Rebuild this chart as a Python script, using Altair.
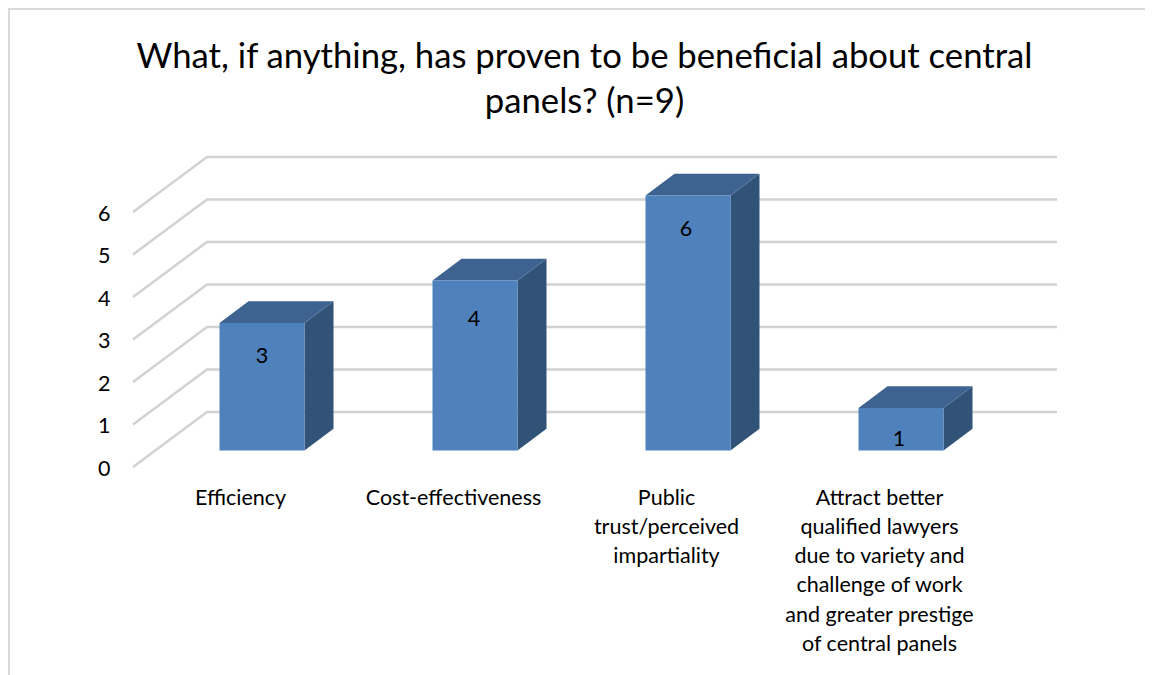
import json
import altair as alt
import pandas as pd

categories = [
    ["Efficiency"],
    ["Cost-effectiveness"],
    ["Public", "trust/perceived", "impartiality"],
    ["Attract better", "qualified lawyers", "due to variety and", "challenge of work", "and greater prestige", "of central panels"],
]
values = [3, 4, 6, 1]
label_x = [0.0, 0.995, 1.99, 2.99]
label_y = [2.2, 3.07, 5.19, 0.25]
levels = [0, 1, 2, 3, 4, 5, 6]
title_lines = ["What, if anything, has proven to be beneficial about central", "panels? (n=9)"]

W, H = 1137, 667
PX_X, PX_Y = 213.0, 42.5
X_DOMAIN = [(8 - 262) / PX_X, (8 + W - 262) / PX_X]
Y_DOMAIN = [(450.5 - 8 - H) / PX_Y, (450.5 - 8) / PX_Y]
x_scale = alt.Scale(domain=X_DOMAIN, nice=False, zero=False)
y_scale = alt.Scale(domain=Y_DOMAIN, nice=False, zero=False)

HALF = 42.5 / PX_X
DX, DY = 29 / PX_X, 21.7 / PX_Y
WL, WB, WE = -0.6056, -0.2582, 3.7324
YL, YB = -0.388, 0.906
FONT = "Lato"
LABEL_SIZE = 21.5

grid_rows = []
for v in levels:
    grid_rows += [
        {"level": v, "o": 0, "x": WL, "y": v + YL},
        {"level": v, "o": 1, "x": WB, "y": v + YB},
        {"level": v, "o": 2, "x": WE, "y": v + YB},
    ]

front, side, top = [], [], []
for i, v in enumerate(values):
    l, r = i - HALF, i + HALF
    front.append({"x": l, "x2": r, "y": 0, "y2": v})
    side += [
        {"b": i, "x": r, "y": 0, "y2": v},
        {"b": i, "x": r + DX, "y": DY, "y2": v + DY},
    ]
    top += [
        {"b": i, "x": l, "y": v, "y2": v},
        {"b": i, "x": l + DX, "y": v, "y2": v + DY},
        {"b": i, "x": r, "y": v, "y2": v + DY},
        {"b": i, "x": r + DX, "y": v + DY, "y2": v + DY},
    ]

expr = "[" + ",".join(json.dumps(c) for c in categories) + "][datum.value]"
x_axis = alt.Axis(
    values=[0, 1, 2, 3], labelExpr=expr, title=None, grid=False, domain=False, ticks=False,
    labelOffset=-22, offset=487 - (8 + H), labelPadding=0, labelFontSize=LABEL_SIZE, labelFont=FONT,
    labelColor="#000000", labelBaseline="top", labelLineHeight=29.3, labelLimit=400,
    labelOverlap=False, labelAngle=0, labelFlush=False,
)
y_axis = alt.Axis(
    values=levels, format="d", title=None, grid=False, domain=False, ticks=False,
    labelOffset=18.5, offset=-102, labelPadding=0, labelFontSize=LABEL_SIZE, labelFont=FONT,
    labelColor="#000000", labelOverlap=False, labelFlush=False,
)
X = alt.X("x:Q", scale=x_scale, axis=x_axis)
Y = alt.Y("y:Q", scale=y_scale, axis=y_axis)

frame_left = alt.Chart(pd.DataFrame({"a": [0]})).mark_rule(color="#d9d9d9", strokeWidth=2).encode(
    x=alt.value(1), y=alt.value(0), y2=alt.value(H))
frame_top = alt.Chart(pd.DataFrame({"a": [0]})).mark_rule(color="#d9d9d9", strokeWidth=2).encode(
    y=alt.value(1), x=alt.value(0), x2=alt.value(W))

grid = alt.Chart(pd.DataFrame(grid_rows)).mark_line(color="#d2d2d2", strokeWidth=2.5).encode(
    x=X, y=Y, detail="level:N", order="o:Q")
side_m = alt.Chart(pd.DataFrame(side)).mark_area(color="#325378").encode(
    x=X, y=Y, y2="y2:Q", detail="b:N")
top_m = alt.Chart(pd.DataFrame(top)).mark_area(color="#3e6391").encode(
    x=X, y=Y, y2="y2:Q", detail="b:N")
front_m = alt.Chart(pd.DataFrame(front)).mark_rect(color="#4f81bd").encode(
    x=X, x2="x2:Q", y=Y, y2="y2:Q")
labels = alt.Chart(pd.DataFrame({"x": label_x, "y": label_y, "t": values})).mark_text(
    font=FONT, fontSize=LABEL_SIZE, color="#000000").encode(x=X, y=Y, text="t:Q")

chart = alt.layer(frame_left, frame_top, grid, side_m, top_m, front_m, labels).properties(
    width=W, height=H,
    title=alt.TitleParams(
        text=title_lines, anchor="middle", frame="group", fontSize=34.7, font=FONT, fontWeight="normal",
        color="#000000", baseline="middle", offset=0, dx=8, dy=130.5, lineHeight=45,
    ),
    autosize=alt.AutoSizeParams(type="none"),
    padding=0,
).configure_view(stroke=None).configure(background="#ffffff")

chart.save("out.html", embed_options={"renderer": "svg", "actions": False})
